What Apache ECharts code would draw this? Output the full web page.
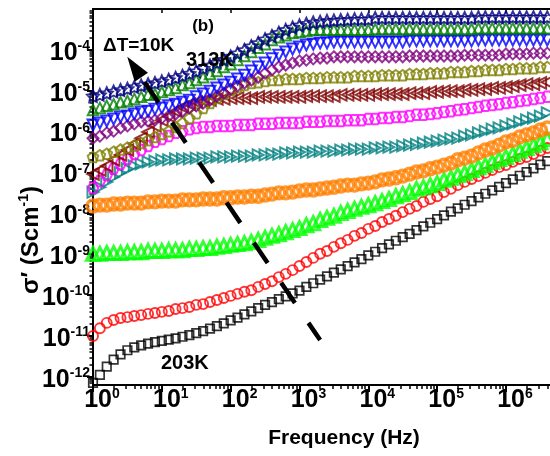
<!DOCTYPE html>
<html>
<head>
<meta charset="utf-8">
<script src="https://cdn.jsdelivr.net/npm/echarts@6/dist/echarts.min.js"></script>
<style>
html,body{margin:0;padding:0;background:#fff;}
#chart{width:550px;height:456px;}
</style>
</head>
<body>
<div id="chart"></div>
<script>
// ---- Data (log10 of frequency in Hz, log10 of conductivity in S/cm) ----
const log10Freq = [0.0,0.1,0.2,0.3,0.4,0.5,0.6,0.7,0.8,0.9,
  1.0,1.1,1.2,1.3,1.4,1.5,1.6,1.7,1.8,1.9,
  2.0,2.1,2.2,2.3,2.4,2.5,2.6,2.7,2.8,2.9,
  3.0,3.1,3.2,3.3,3.4,3.5,3.6,3.7,3.8,3.9,
  4.0,4.1,4.2,4.3,4.4,4.5,4.6,4.7,4.8,4.9,
  5.0,5.1,5.2,5.3,5.4,5.5,5.6,5.7,5.8,5.9,
  6.0,6.1,6.2,6.3,6.4,6.5,6.6];

const sig203K = [-12.15,-11.95,-11.75,-11.58,-11.45,-11.35,-11.28,-11.23,-11.19,-11.15,
  -11.12,-11.09,-11.06,-11.02,-10.98,-10.93,-10.88,-10.82,-10.76,-10.69,
  -10.62,-10.55,-10.47,-10.40,-10.32,-10.24,-10.17,-10.10,-10.03,-9.96,
  -9.89,-9.80,-9.71,-9.62,-9.54,-9.45,-9.37,-9.29,-9.20,-9.12,
  -9.03,-8.94,-8.85,-8.76,-8.67,-8.58,-8.50,-8.41,-8.32,-8.23,
  -8.14,-8.05,-7.96,-7.88,-7.79,-7.70,-7.61,-7.52,-7.44,-7.35,
  -7.26,-7.17,-7.08,-6.99,-6.90,-6.81,-6.72];
const sig213K = [-11.00,-10.81,-10.68,-10.61,-10.56,-10.54,-10.51,-10.49,-10.46,-10.44,
  -10.41,-10.39,-10.34,-10.32,-10.29,-10.24,-10.22,-10.17,-10.12,-10.07,
  -10.02,-9.97,-9.92,-9.88,-9.80,-9.73,-9.66,-9.56,-9.48,-9.39,
  -9.29,-9.19,-9.09,-8.99,-8.92,-8.82,-8.73,-8.65,-8.55,-8.48,
  -8.38,-8.31,-8.21,-8.14,-8.06,-7.97,-7.89,-7.82,-7.72,-7.65,
  -7.58,-7.48,-7.40,-7.31,-7.23,-7.16,-7.09,-7.01,-6.94,-6.87,
  -6.82,-6.74,-6.67,-6.62,-6.55,-6.47,-6.40];
const sig223K = [-8.99,-8.99,-8.97,-8.97,-8.97,-8.95,-8.95,-8.95,-8.92,-8.92,
  -8.92,-8.90,-8.90,-8.90,-8.87,-8.87,-8.85,-8.85,-8.82,-8.80,
  -8.77,-8.75,-8.73,-8.70,-8.65,-8.60,-8.55,-8.51,-8.46,-8.41,
  -8.36,-8.29,-8.24,-8.16,-8.11,-8.06,-7.99,-7.94,-7.89,-7.84,
  -7.80,-7.75,-7.70,-7.65,-7.58,-7.53,-7.48,-7.40,-7.36,-7.31,
  -7.26,-7.18,-7.13,-7.06,-7.01,-6.94,-6.87,-6.82,-6.74,-6.67,
  -6.62,-6.55,-6.47,-6.40,-6.33,-6.26,-6.18];
const sig233K = [-7.82,-7.80,-7.80,-7.77,-7.77,-7.75,-7.75,-7.75,-7.72,-7.72,
  -7.70,-7.70,-7.70,-7.67,-7.67,-7.67,-7.65,-7.65,-7.65,-7.62,
  -7.62,-7.60,-7.60,-7.58,-7.58,-7.55,-7.53,-7.50,-7.50,-7.48,
  -7.45,-7.43,-7.43,-7.40,-7.38,-7.36,-7.33,-7.31,-7.31,-7.28,
  -7.26,-7.23,-7.18,-7.16,-7.13,-7.09,-7.04,-6.99,-6.96,-6.91,
  -6.87,-6.82,-6.77,-6.69,-6.65,-6.60,-6.52,-6.45,-6.40,-6.33,
  -6.25,-6.21,-6.13,-6.08,-6.03,-5.96,-5.91];
const sig243K = [-7.48,-7.36,-7.23,-7.11,-7.01,-6.91,-6.84,-6.79,-6.74,-6.72,
  -6.69,-6.69,-6.67,-6.67,-6.67,-6.65,-6.65,-6.65,-6.62,-6.62,
  -6.62,-6.60,-6.60,-6.60,-6.57,-6.57,-6.55,-6.55,-6.52,-6.52,
  -6.50,-6.50,-6.50,-6.48,-6.48,-6.48,-6.45,-6.45,-6.43,-6.43,
  -6.43,-6.40,-6.40,-6.38,-6.38,-6.35,-6.33,-6.31,-6.28,-6.26,
  -6.23,-6.21,-6.18,-6.16,-6.11,-6.08,-6.03,-5.99,-5.94,-5.91,
  -5.86,-5.81,-5.76,-5.71,-5.67,-5.62,-5.54];
const sig253K = [-7.38,-7.21,-7.06,-6.91,-6.79,-6.67,-6.55,-6.45,-6.35,-6.25,
  -6.18,-6.11,-6.03,-5.99,-5.94,-5.91,-5.89,-5.89,-5.86,-5.86,
  -5.86,-5.84,-5.84,-5.84,-5.81,-5.81,-5.81,-5.79,-5.79,-5.79,
  -5.79,-5.76,-5.76,-5.76,-5.74,-5.74,-5.74,-5.72,-5.72,-5.72,
  -5.69,-5.69,-5.67,-5.67,-5.64,-5.64,-5.62,-5.59,-5.59,-5.57,
  -5.55,-5.52,-5.50,-5.47,-5.45,-5.42,-5.40,-5.37,-5.35,-5.33,
  -5.30,-5.28,-5.25,-5.23,-5.20,-5.18,-5.15];
const sig263K = [-7.04,-6.94,-6.84,-6.69,-6.57,-6.45,-6.30,-6.16,-6.01,-5.86,
  -5.72,-5.62,-5.50,-5.40,-5.33,-5.28,-5.25,-5.23,-5.20,-5.20,
  -5.18,-5.18,-5.18,-5.18,-5.15,-5.15,-5.15,-5.15,-5.15,-5.15,
  -5.15,-5.13,-5.13,-5.13,-5.13,-5.13,-5.10,-5.10,-5.10,-5.10,
  -5.10,-5.08,-5.08,-5.08,-5.08,-5.08,-5.06,-5.06,-5.06,-5.03,
  -5.03,-5.01,-5.01,-5.01,-4.98,-4.98,-4.96,-4.96,-4.93,-4.93,
  -4.91,-4.89,-4.86,-4.84,-4.84,-4.81,-4.79];
const sig273K = [-6.62,-6.58,-6.54,-6.49,-6.44,-6.39,-6.34,-6.28,-6.21,-6.13,
  -6.06,-5.99,-5.89,-5.79,-5.67,-5.55,-5.42,-5.30,-5.18,-5.08,
  -4.98,-4.91,-4.86,-4.81,-4.79,-4.76,-4.74,-4.74,-4.71,-4.71,
  -4.71,-4.69,-4.69,-4.69,-4.67,-4.67,-4.67,-4.67,-4.64,-4.64,
  -4.64,-4.64,-4.62,-4.62,-4.62,-4.62,-4.59,-4.59,-4.59,-4.57,
  -4.57,-4.57,-4.54,-4.54,-4.54,-4.52,-4.52,-4.49,-4.49,-4.49,
  -4.47,-4.47,-4.45,-4.45,-4.45,-4.42,-4.42];
const sig283K = [-6.16,-6.11,-6.03,-5.99,-5.91,-5.86,-5.81,-5.76,-5.74,-5.72,
  -5.67,-5.62,-5.57,-5.50,-5.42,-5.37,-5.30,-5.23,-5.13,-5.06,
  -4.96,-4.88,-4.81,-4.74,-4.67,-4.57,-4.49,-4.42,-4.37,-4.32,
  -4.27,-4.25,-4.22,-4.20,-4.20,-4.17,-4.17,-4.17,-4.17,-4.17,
  -4.17,-4.17,-4.17,-4.17,-4.17,-4.17,-4.15,-4.15,-4.15,-4.15,
  -4.15,-4.15,-4.15,-4.15,-4.13,-4.13,-4.13,-4.13,-4.13,-4.13,
  -4.10,-4.10,-4.10,-4.10,-4.08,-4.08,-4.08];
const sig293K = [-5.84,-5.79,-5.74,-5.69,-5.64,-5.62,-5.57,-5.52,-5.50,-5.45,
  -5.42,-5.37,-5.33,-5.28,-5.23,-5.15,-5.08,-5.01,-4.93,-4.86,
  -4.79,-4.71,-4.62,-4.52,-4.42,-4.32,-4.22,-4.13,-4.05,-3.98,
  -3.93,-3.88,-3.86,-3.83,-3.83,-3.81,-3.81,-3.81,-3.81,-3.81,
  -3.81,-3.81,-3.81,-3.81,-3.81,-3.81,-3.78,-3.78,-3.78,-3.78,
  -3.78,-3.78,-3.78,-3.78,-3.78,-3.78,-3.76,-3.76,-3.76,-3.76,
  -3.76,-3.76,-3.76,-3.76,-3.76,-3.76,-3.76];
const sig303K = [-5.47,-5.42,-5.37,-5.33,-5.28,-5.25,-5.20,-5.15,-5.10,-5.08,
  -5.03,-4.98,-4.93,-4.86,-4.81,-4.74,-4.67,-4.59,-4.52,-4.42,
  -4.35,-4.25,-4.15,-4.05,-3.95,-3.86,-3.76,-3.69,-3.64,-3.59,
  -3.56,-3.54,-3.51,-3.51,-3.51,-3.51,-3.51,-3.51,-3.51,-3.51,
  -3.51,-3.49,-3.49,-3.49,-3.49,-3.49,-3.49,-3.49,-3.49,-3.49,
  -3.49,-3.49,-3.49,-3.49,-3.49,-3.49,-3.47,-3.47,-3.47,-3.47,
  -3.47,-3.47,-3.47,-3.47,-3.47,-3.47,-3.47];
const sig313K = [-5.13,-5.10,-5.06,-5.02,-4.98,-4.95,-4.91,-4.87,-4.84,-4.81,
  -4.77,-4.73,-4.68,-4.63,-4.58,-4.52,-4.45,-4.38,-4.31,-4.24,
  -4.16,-4.08,-4.00,-3.91,-3.83,-3.74,-3.66,-3.58,-3.51,-3.45,
  -3.40,-3.36,-3.33,-3.31,-3.29,-3.28,-3.27,-3.26,-3.25,-3.25,
  -3.25,-3.22,-3.22,-3.22,-3.22,-3.22,-3.22,-3.22,-3.22,-3.22,
  -3.22,-3.22,-3.22,-3.22,-3.22,-3.22,-3.20,-3.20,-3.20,-3.20,
  -3.20,-3.20,-3.20,-3.20,-3.20,-3.20,-3.20];

const xTickExponents = [0,1,2,3,4,5,6];
const yTickExponents = [-12,-11,-10,-9,-8,-7,-6,-5,-4];
// arrow "ΔT=10K" (log10 f, log10 sigma) start/end
const arrowStart = [0.60, -4.42];
const arrowEnd = [3.30, -11.10];

// ---- Build ----
const X_MIN = 0, X_MAX = 6.64, Y_MIN = -12.2, Y_MAX = -3.0;
function minorTicks(lo, hi) {
  const out = [];
  for (let d = Math.floor(lo) - 1; d <= Math.ceil(hi); d++) {
    for (let k = 2; k <= 9; k++) {
      const v = d + Math.log10(k);
      if (v > lo && v < hi) out.push(v);
    }
  }
  return out;
}
const STAR = 'path://M0,-10L2.94,-4.05L9.51,-3.09L4.76,1.55L5.88,8.09L0,5L-5.88,8.09L-4.76,1.55L-9.51,-3.09L-2.94,-4.05Z';
const PENT = 'path://M0,-10L9.51,-3.09L5.88,8.09L-5.88,8.09L-9.51,-3.09Z';
const HEX = 'path://M-5,-8.66L5,-8.66L10,0L5,8.66L-5,8.66L-10,0Z';

const defs = [
  {name:'203K', d:sig203K, c:'#000000', s:'rect', z:8.5, r:0, w:1.7},
  {name:'213K', d:sig213K, c:'#ff0000', s:'circle', z:10, r:0, w:1.9},
  {name:'223K', d:sig223K, c:'#00ff00', s:'triangle', z:13, r:0, w:3},
  {name:'233K', d:sig233K, c:'#ff8000', s:'circle', z:12, r:0, w:3.4},
  {name:'243K', d:sig243K, c:'#008080', s:'triangle', z:11, r:-90, w:2},
  {name:'253K', d:sig253K, c:'#ff00ff', s:HEX, z:10.5, r:0, w:2},
  {name:'263K', d:sig263K, c:'#800000', s:'triangle', z:11.5, r:90, w:2},
  {name:'273K', d:sig273K, c:'#808000', s:PENT, z:10.5, r:0, w:2},
  {name:'283K', d:sig283K, c:'#800080', s:'diamond', z:11, r:0, w:2},
  {name:'293K', d:sig293K, c:'#0000ff', s:'triangle', z:11, r:180, w:2},
  {name:'303K', d:sig303K, c:'#008000', s:'triangle', z:10.5, r:0, w:2},
  {name:'313K', d:sig313K, c:'#000080', s:STAR, z:12, r:0, w:1.9}
];

const series = defs.map(o => ({
  type:'scatter', name:o.name, xAxisIndex:0, yAxisIndex:0,
  symbol:o.s, symbolSize:o.z, symbolRotate:o.r,
  itemStyle:{color:'rgba(0,0,0,0)', borderColor:o.c, borderWidth:o.w},
  data: log10Freq.map((f,i) => [f, o.d[i]]),
  silent:true, z:2
}));
series.push({
  type:'line', xAxisIndex:0, yAxisIndex:0, data:[], silent:true, z:5,
  markLine:{
    silent:true, animation:false,
    symbol:['triangle','none'], symbolSize:[16,25],
    label:{show:false},
    lineStyle:{color:'#000', width:4.5, type:[24.5,24], dashOffset:30, cap:'butt'},
    itemStyle:{color:'#000'},
    data:[[{coord:arrowStart},{coord:arrowEnd}]]
  }
});

const FONT = 'Liberation Sans, Arial, sans-serif';
const labelRich = {
  b:{fontSize:25, fontWeight:'bold', fontFamily:FONT, color:'#000', lineHeight:26, verticalAlign:'bottom'},
  s:{fontSize:14, fontWeight:'bold', fontFamily:FONT, color:'#000', lineHeight:14, verticalAlign:'top'}
};
const fmt = v => '{b|10}{s|' + Math.round(v) + '}';
const lineSt = {color:'#000', width:2};

const option = {
  animation:false,
  backgroundColor:'#fff',
  grid:{left:93, right:0, top:9, bottom:71, containLabel:false},
  xAxis:[
    {type:'value', position:'bottom', min:X_MIN, max:X_MAX,
     axisLine:{show:true, onZero:false, lineStyle:lineSt},
     axisTick:{show:true, inside:false, length:7, customValues:xTickExponents, lineStyle:{color:'#000', width:2}},
     axisLabel:{show:true, customValues:xTickExponents, margin:2, formatter:fmt, rich:labelRich, padding:[0,0,0,18]},
     splitLine:{show:false}},
    {type:'value', position:'bottom', min:X_MIN, max:X_MAX,
     axisLine:{show:true, onZero:false, lineStyle:lineSt},
     axisTick:{show:true, inside:false, length:4, customValues:minorTicks(X_MIN,X_MAX), lineStyle:{color:'#000', width:1.5}},
     axisLabel:{show:false}, splitLine:{show:false}},
    {type:'value', position:'top', min:X_MIN, max:X_MAX,
     axisLine:{show:true, onZero:false, lineStyle:lineSt},
     axisTick:{show:true, inside:true, length:4, customValues:xTickExponents, lineStyle:{color:'#000', width:1.5}},
     axisLabel:{show:false}, splitLine:{show:false}}
  ],
  yAxis:[
    {type:'value', position:'left', min:Y_MIN, max:Y_MAX,
     axisLine:{show:true, onZero:false, lineStyle:lineSt},
     axisTick:{show:true, inside:false, length:6, customValues:yTickExponents, lineStyle:{color:'#000', width:2}},
     axisLabel:{show:true, customValues:yTickExponents, margin:3, formatter:fmt, rich:labelRich, padding:[5,0,0,0]},
     splitLine:{show:false}},
    {type:'value', position:'left', min:Y_MIN, max:Y_MAX,
     axisLine:{show:true, onZero:false, lineStyle:lineSt},
     axisTick:{show:true, inside:false, length:3.5, customValues:minorTicks(Y_MIN,Y_MAX), lineStyle:{color:'#000', width:1.5}},
     axisLabel:{show:false}, splitLine:{show:false}}
  ],
  series: series,
  graphic:[
    {type:'text', x:203, y:26, z:10, style:{text:'(b)', font:'bold 17px ' + FONT, fill:'#000', align:'center', verticalAlign:'middle'}},
    {type:'text', x:103, y:46, z:10, style:{text:'ΔT=10K', font:'bold 19px ' + FONT, fill:'#000', align:'left', verticalAlign:'middle'}},
    {type:'text', x:186, y:60, z:10, style:{text:'313K', font:'bold 20px ' + FONT, fill:'#000', align:'left', verticalAlign:'middle'}},
    {type:'text', x:161, y:363, z:10, style:{text:'203K', font:'bold 20px ' + FONT, fill:'#000', align:'left', verticalAlign:'middle'}},
    {type:'text', x:344, y:438, z:10, style:{text:'Frequency (Hz)', font:'bold 21px ' + FONT, fill:'#000', align:'center', verticalAlign:'middle'}},
    {type:'text', x:30, y:240, rotation:Math.PI/2, z:10, style:{
      text:'{a|σ′ (Scm}{s|-1}{a|)}', align:'center', verticalAlign:'middle',
      rich:{
        a:{fontSize:24, fontWeight:'bold', fontFamily:FONT, fill:'#000', color:'#000', lineHeight:26, verticalAlign:'bottom'},
        s:{fontSize:14, fontWeight:'bold', fontFamily:FONT, fill:'#000', color:'#000', lineHeight:14, verticalAlign:'top'}
      }}}
  ]
};

const chart = echarts.init(document.getElementById('chart'), null, {renderer:'canvas'});
chart.setOption(option);
</script>
</body>
</html>
